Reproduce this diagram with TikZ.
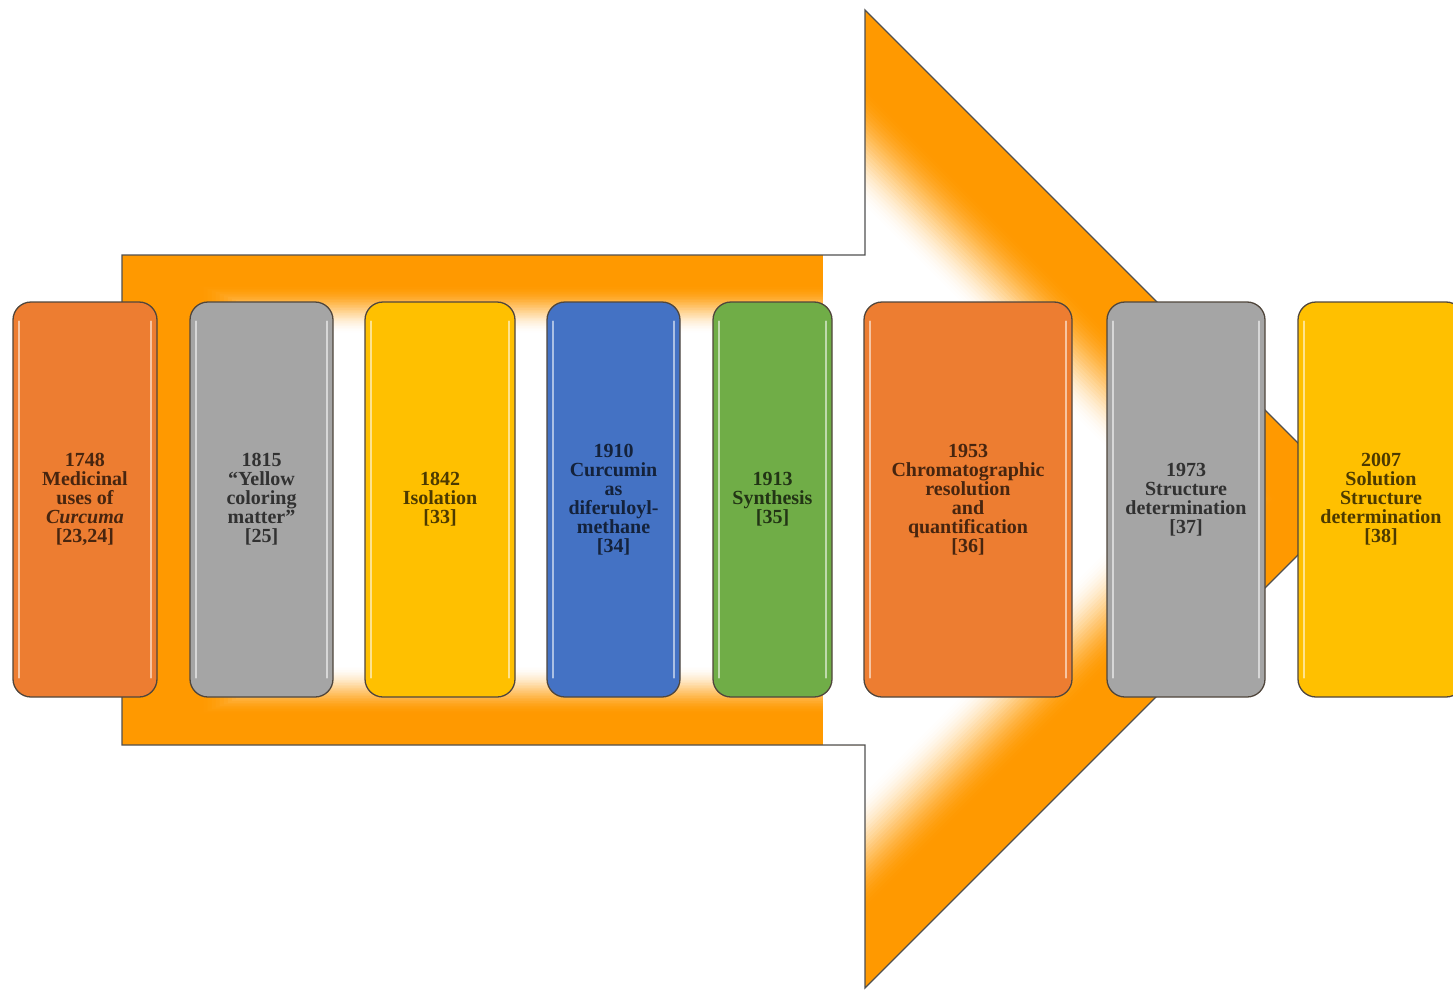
\documentclass[tikz,border=0pt]{standalone}
\usepackage{fontspec}
\setmainfont{Liberation Serif}
\usetikzlibrary{calc}
\definecolor{arr}{RGB}{255,153,0}
\definecolor{arrline}{RGB}{80,80,80}
\definecolor{boxline}{RGB}{80,70,60}
\definecolor{cOr}{RGB}{237,125,49}
\definecolor{cGr}{RGB}{165,165,165}
\definecolor{cGo}{RGB}{255,192,0}
\definecolor{cBl}{RGB}{68,114,196}
\definecolor{cGn}{RGB}{112,173,71}
\tikzset{
  box/.style={draw=boxline, line width=1.3pt, rounded corners=18pt,
    minimum height=395pt, inner sep=0pt, align=center,
    font=\bfseries\fontsize{20}{19}\selectfont, fill=#1, text=#1!30!black},
  hilite/.style={draw=#1!45!white, line width=2.2pt, line cap=round},
  arrowline/.style={draw=arrline, line width=1.3pt, line join=miter}
}
\begin{document}
\begin{tikzpicture}[x=1pt,y=-1pt]
\useasboundingbox (0,0) rectangle (1453,990);
\clip (0,0) rectangle (1453,990);
\coordinate (c) at (738,499);
\coordinate (v1) at (122,255);
\coordinate (v2) at (865,255);
\coordinate (v3) at (865,10);
\coordinate (v4) at (1354,499);
\coordinate (v5) at (865,988);
\coordinate (v6) at (865,745);
\coordinate (v7) at (122,745);
% big arrow with path gradient (orange edges, white centre)
\begin{scope}
\clip (v1) -- (v2) -- (v3) -- (v4) -- (v5) -- (v6) -- (v7) -- cycle;
\foreach \i in {0,...,50}{
  \pgfmathsetmacro\s{1-\i*0.0066}
  \pgfmathsetmacro\t{max(0,min(1,(\s-0.68)/0.20))}
  \pgfmathsetmacro\p{100*\t*\t*(3-2*\t)}
  \fill[arr!\p!white]
    ($(c)!\s!(v1)$) -- ($(c)!\s!(v2)$) -- ($(c)!\s!(v3)$) -- ($(c)!\s!(v4)$)
    -- ($(c)!\s!(v5)$) -- ($(c)!\s!(v6)$) -- ($(c)!\s!(v7)$) -- cycle;
}
\end{scope}
\draw[arrowline] (v1) -- (v2) -- (v3) -- (v4) -- (v5) -- (v6) -- (v7) -- cycle;
% boxes
\node[box=cOr, minimum width=144pt] (b1) at (85,499.5)
  {1748\\Medicinal\\uses of\\\textit{Curcuma}\\{}[23,24]};
\node[box=cGr, minimum width=143pt] (b2) at (261.5,499.5)
  {1815\\“Yellow\\coloring\\matter”\\{}[25]};
\node[box=cGo, minimum width=150pt] (b3) at (440,499.5)
  {1842\\Isolation\\{}[33]};
\node[box=cBl, minimum width=133pt] (b4) at (613.5,499.5)
  {1910\\Curcumin\\as\\diferuloyl-\\methane\\{}[34]};
\node[box=cGn, minimum width=119pt] (b5) at (772.5,499.5)
  {1913\\Synthesis\\{}[35]};
\node[box=cOr, minimum width=208pt] (b6) at (968,499.5)
  {1953\\Chromatographic\\resolution\\and\\quantification\\{}[36]};
\node[box=cGr, minimum width=158pt] (b7) at (1186,499.5)
  {1973\\Structure\\determination\\{}[37]};
\node[box=cGo, minimum width=166pt] (b8) at (1381,499.5)
  {2007\\Solution\\Structure\\determination\\{}[38]};
% glossy highlights
\foreach \n/\c in {b1/cOr,b2/cGr,b3/cGo,b4/cBl,b5/cGn,b6/cOr,b7/cGr,b8/cGo}{
  \draw[hilite=\c] ([xshift=7pt,yshift=-20pt]\n.north west) -- ([xshift=7pt,yshift=20pt]\n.south west);
  \draw[hilite=\c] ([xshift=-7pt,yshift=-20pt]\n.north east) -- ([xshift=-7pt,yshift=20pt]\n.south east);
}
\end{tikzpicture}
\end{document}
